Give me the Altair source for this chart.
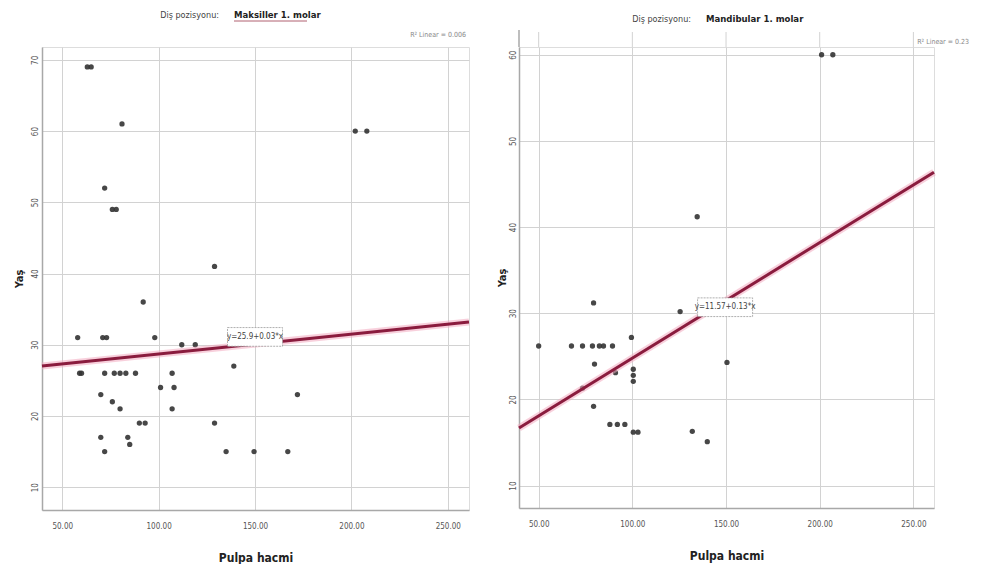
import altair as alt
import pandas as pd

FONT = "Liberation Sans Narrow, DejaVu Sans Condensed, Liberation Sans, sans-serif"

# ---- Panel 1: Maksiller 1. molar ----
max_pulpa = [63, 65, 81, 72, 76, 78, 129, 92, 58, 71, 73, 98, 112, 119,
             59, 60, 72, 77, 80, 83, 88, 107, 70, 76, 80, 101, 108, 107,
             90, 93, 70, 72, 84, 85, 129, 135, 149.5, 167, 172, 139, 202, 208]
max_yas = [69, 69, 61, 52, 49, 49, 41, 36, 31, 31, 31, 31, 30, 30,
           26, 26, 26, 26, 26, 26, 26, 26, 23, 22, 21, 24, 24, 21,
           19, 19, 17, 15, 17, 16, 19, 15, 15, 15, 23, 27, 60, 60]
max_fit = [25.9, 0.028]          # intercept, slope
max_eq = "y=25.9+0.03*x"
max_eq_at = [150, 31.1]
max_r2 = "R² Linear = 0.006"
max_title = ["Diş pozisyonu:", "Maksiller 1. molar"]
max_ydomain = [6.8, 71.8]

# ---- Panel 2: Mandibular 1. molar ----
man_pulpa = [79.3, 125.5, 50, 67.5, 73.4, 78.7, 82.4, 84.6, 89.4, 99.5, 79.8,
             100.5, 100.5, 100.5, 91, 73.4, 79.3, 88, 92, 96, 100.5, 103,
             132, 140, 150.5, 134.6, 201, 207]
man_yas = [31.2, 30.2, 26.2, 26.2, 26.2, 26.2, 26.2, 26.2, 26.2, 27.2, 24.1,
           23.5, 22.8, 22.1, 23.1, 21.3, 19.2, 17.1, 17.1, 17.1, 16.2, 16.2,
           16.3, 15.1, 24.3, 41.2, 60, 60]
man_fit = [11.4, 0.134]
man_eq = "y=11.57+0.13*x"
man_eq_at = [149.5, 30.7]
man_r2 = "R² Linear = 0.23"
man_title = ["Diş pozisyonu:", "Mandibular 1. molar"]
man_ydomain = [7.4, 60.9]

x_ticks = [50, 100, 150, 200, 250]
x_domain = [39.5, 261]


def panel(xs, ys, fit, eq, eq_at, r2, ydom, yticks, w, h, titles, title_y,
          title_split, r2_x, r2_y, r2_align, lab_pad, tit_pad, underline,
          extend_up=0):
    xsc = alt.Scale(domain=x_domain, nice=False, zero=False)
    ysc = alt.Scale(domain=ydom, nice=False, zero=False)
    xax = alt.Axis(values=x_ticks, format=".2f", title="Pulpa hacmi", grid=True,
                   gridColor="#d2d2d2", ticks=False, domainColor="#a8a8a8",
                   domainWidth=1.5, labelFontSize=8, labelPadding=12,
                   labelColor="#555", titleFontSize=12, titleFontWeight="bold",
                   titlePadding=22, titleColor="#222", labelFont=FONT, titleFont=FONT)
    yax = alt.Axis(values=yticks, title="Yaş", grid=True, gridColor="#d2d2d2",
                   ticks=False, domainColor="#a8a8a8", domainWidth=1.5,
                   labelAngle=270, labelAlign="center", labelBaseline="bottom",
                   labelFontSize=8, labelPadding=lab_pad, labelColor="#555",
                   titleFontSize=11, titleFontWeight="bold", titlePadding=tit_pad,
                   titleColor="#222", labelFont=FONT, titleFont=FONT)
    X = alt.X("x:Q", scale=xsc, axis=xax)
    Y = alt.Y("y:Q", scale=ysc, axis=yax)

    pts = pd.DataFrame({"x": xs, "y": ys})
    line_df = pd.DataFrame({"x": x_domain,
                            "y": [fit[0] + fit[1] * v for v in x_domain]})
    eq_df = pd.DataFrame({"x": [eq_at[0]], "y": [eq_at[1]], "t": [eq]})

    layers = []
    if extend_up:
        gdf = pd.DataFrame({"x": x_ticks})
        layers.append(alt.Chart(gdf).mark_rule(color="#d2d2d2", strokeWidth=1).encode(
            x=X, y=alt.value(-extend_up + 2), y2=alt.value(0)))
        adf = pd.DataFrame({"x": [x_domain[0]]})
        layers.append(alt.Chart(adf).mark_rule(color="#a8a8a8", strokeWidth=1.5).encode(
            x=X, y=alt.value(-extend_up), y2=alt.value(0)))

    points = alt.Chart(pts).mark_point(filled=True, shape="circle", size=28,
                                       color="#333333", opacity=0.9).encode(x=X, y=Y)
    halo = alt.Chart(line_df).mark_line(color="#f3a9bf", strokeWidth=7,
                                        opacity=0.55).encode(x=X, y=Y)
    line = alt.Chart(line_df).mark_line(color="#8a1c3e",
                                        strokeWidth=3).encode(x=X, y=Y)
    box = alt.Chart(eq_df).mark_point(shape="M-1,-0.34H1V0.34H-1Z", size=3025,
                                      filled=True, fill="white", fillOpacity=1,
                                      stroke="#9a9a9a", strokeWidth=0.8,
                                      strokeDash=[2, 1], opacity=1).encode(x=X, y=Y)
    eqt = alt.Chart(eq_df).mark_text(fontSize=8, color="#444",
                                     font=FONT).encode(x=X, y=Y, text="t:N")

    tdf = pd.DataFrame({"t": [titles[0]]})
    tdf2 = pd.DataFrame({"t": [titles[1]]})
    t1 = alt.Chart(tdf).mark_text(fontSize=9, color="#444", align="right",
                                  font=FONT).encode(
        x=alt.value(title_split), y=alt.value(title_y), text="t:N")
    t2 = alt.Chart(tdf2).mark_text(fontSize=9.5, color="#222", align="left",
                                   fontWeight="bold", font=FONT).encode(
        x=alt.value(title_split + 15), y=alt.value(title_y), text="t:N")
    r2df = pd.DataFrame({"t": [r2]})
    r2t = alt.Chart(r2df).mark_text(fontSize=7, color="#888", align=r2_align,
                                    font=FONT).encode(
        x=alt.value(r2_x), y=alt.value(r2_y), text="t:N")
    layers += [points, halo, line, box, eqt, t1, t2, r2t]
    if underline:
        ul = alt.Chart(tdf2).mark_rule(color="#b06070", strokeWidth=1).encode(
            x=alt.value(title_split + 15), x2=alt.value(title_split + 88),
            y=alt.value(title_y + 6))
        layers.append(ul)
    return alt.layer(*layers).properties(width=w, height=h)


left = panel(max_pulpa, max_yas, max_fit, max_eq, max_eq_at, max_r2,
             max_ydomain, [10, 20, 30, 40, 50, 60, 70], 427, 463, max_title,
             -32, 177, 424, -12, "right", 3, 7, True)
right = panel(man_pulpa, man_yas, man_fit, man_eq, man_eq_at, man_r2,
              man_ydomain, [10, 20, 30, 40, 50, 60], 415, 461, man_title,
              -28, 172, 450, -5, "right", 2, 2, False, extend_up=17)

chart = alt.hconcat(left, right, spacing=11).properties(
    padding={"left": 4, "top": 1, "right": 0, "bottom": 0}
).configure_view(stroke=None).configure(font=FONT)

chart.save("out.html", embed_options={"renderer": "svg", "actions": False})
